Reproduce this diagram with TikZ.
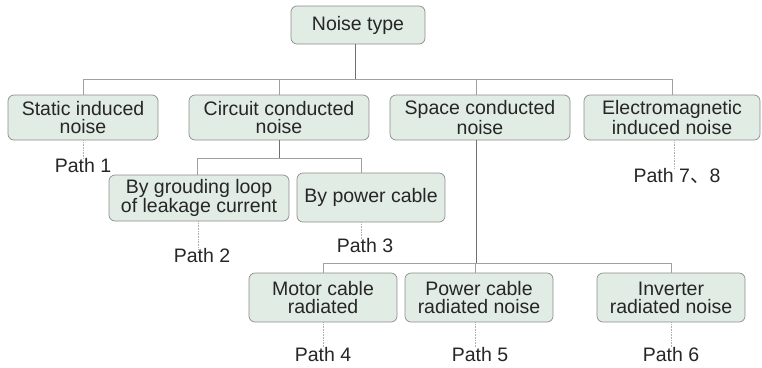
\documentclass[tikz,border=0pt]{standalone}
\usepackage{fontspec}
\setmainfont{Liberation Sans}
\newfontfamily\cjkfont{Noto Sans CJK SC}
\begin{document}
\begin{tikzpicture}[x=1pt,y=-1pt,
  box/.style={draw=boxborder, fill=boxfill, rounded corners=6pt, line width=0.7pt,
    align=center, inner sep=0pt, font=\fontsize{19.5}{18}\selectfont, text=black!85},
  lbl/.style={inner sep=0pt, font=\fontsize{19.5}{18}\selectfont, text=black!85},
  bus/.style={draw=busgray, line width=0.8pt},
  trunk/.style={draw=trunkgray, line width=1pt},
  dots/.style={draw=dotgray, line width=0.6pt, densely dotted}]
\definecolor{boxfill}{HTML}{E1ECE4}
\definecolor{boxborder}{HTML}{8C8C8C}
\definecolor{busgray}{HTML}{A0A0A0}
\definecolor{trunkgray}{HTML}{707070}
\definecolor{dotgray}{HTML}{B0B0B0}
\useasboundingbox (0,0) rectangle (762,367);

\node[box, minimum width=134pt, minimum height=38pt] (top) at (358,25) {Noise type};

\node[box, minimum width=150pt, minimum height=45pt] (static) at (83,117.5) {Static induced\\noise};
\node[box, minimum width=180pt, minimum height=45pt] (circuit) at (279,117.5) {Circuit conducted\\noise};
\node[box, minimum width=180pt, minimum height=45pt] (space) at (480,117.5) {Space conducted\\noise};
\node[box, minimum width=176pt, minimum height=45pt] (em) at (672,117.5) {Electromagnetic\\induced noise};

\node[box, minimum width=180pt, minimum height=46pt] (ground) at (199,198) {By grouding loop\\of leakage current};
\node[box, minimum width=148pt, minimum height=49pt] (power) at (371,197.5) {By power cable};

\node[box, minimum width=148pt, minimum height=49pt] (motor) at (323,297.5) {Motor cable\\radiated};
\node[box, minimum width=148pt, minimum height=49pt] (pcr) at (479,297.5) {Power cable\\radiated noise};
\node[box, minimum width=148pt, minimum height=49pt] (inv) at (671,297.5) {Inverter\\radiated noise};

\node[lbl] (p1) at (83,166) {Path 1};
\node[lbl] (p78) at (677,176) {Path 7{\cjkfont 、}8};
\node[lbl] (p2) at (202,256) {Path 2};
\node[lbl] (p3) at (365,246) {Path 3};
\node[lbl] (p4) at (323,355) {Path 4};
\node[lbl] (p5) at (480,355) {Path 5};
\node[lbl] (p6) at (671,355) {Path 6};

% level 1 bus
\coordinate (b1) at (355,79);
\draw[trunk] ([xshift=-3pt]top.south) -- (b1);
\draw[bus] (static.north) -- (static.north |- b1) -- (em.north |- b1) -- (em.north);
\draw[bus] (circuit.north) -- (circuit.north |- b1);
\draw[bus] ([xshift=-4pt]space.north) -- ([xshift=-4pt]space.north |- b1);

% circuit children
\coordinate (b2) at (279,158);
\draw[trunk] (circuit.south) -- (b2);
\draw[bus] ([xshift=-2pt]ground.north) -- ([xshift=-2pt]ground.north |- b2) -- ([xshift=-10pt]power.north |- b2) -- ([xshift=-10pt]power.north);

% space children
\coordinate (b3) at (476,263);
\draw[trunk] ([xshift=-4pt]space.south) -- (b3);
\draw[bus] (motor.north) -- (motor.north |- b3) -- (inv.north |- b3) -- (inv.north);
\draw[bus] ([xshift=-4pt]pcr.north) -- ([xshift=-4pt]pcr.north |- b3);

% dotted path leaders
\draw[dots] (static.south) -- (static.south |- p1.north);
\draw[dots] ([xshift=2pt]em.south) -- ([xshift=2pt]em.south |- p78.north);
\draw[dots] ([xshift=-1pt]ground.south) -- ([xshift=-1pt]ground.south |- p2.north);
\draw[dots] ([xshift=-10pt]power.south) -- ([xshift=-10pt]power.south |- p3.north);
\draw[dots] (motor.south) -- (motor.south |- p4.north);
\draw[dots] ([xshift=-4pt]pcr.south) -- ([xshift=-4pt]pcr.south |- p5.north);
\draw[dots] (inv.south) -- (inv.south |- p6.north);
\end{tikzpicture}
\end{document}
